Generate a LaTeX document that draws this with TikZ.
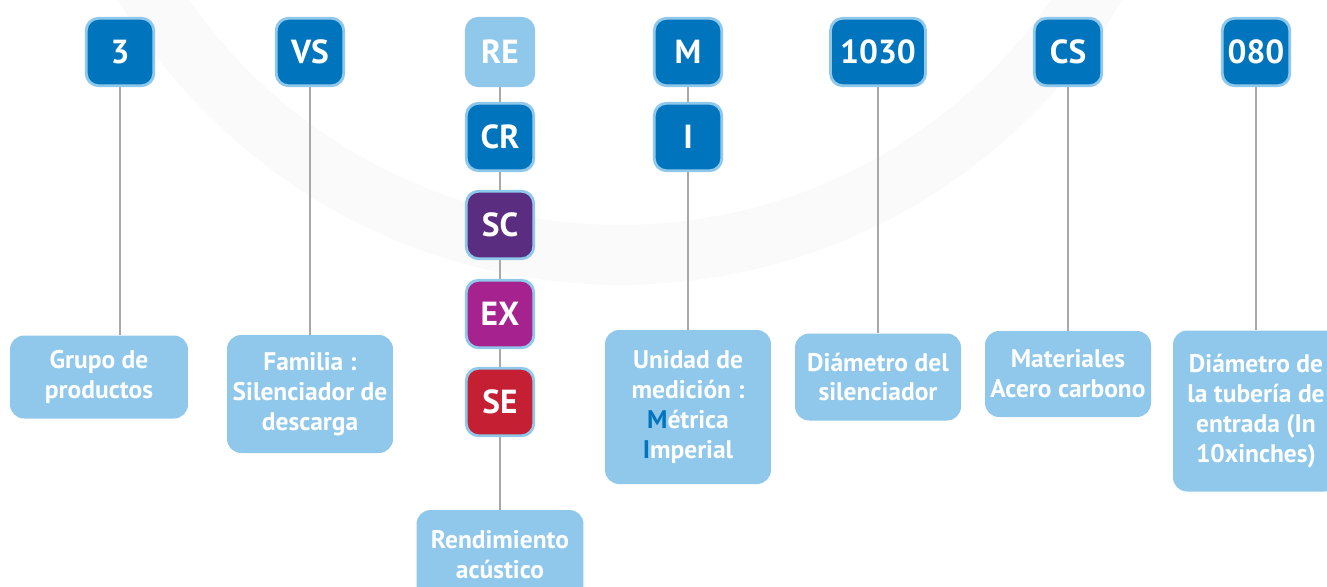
\documentclass[tikz,border=0pt]{standalone}
\usepackage{fontspec}
\setmainfont{PT Sans}
\usetikzlibrary{backgrounds}

\definecolor{codeblue}{HTML}{0075BE}
\definecolor{skyblue}{HTML}{8FC8EA}
\definecolor{scpurple}{HTML}{5B2D81}
\definecolor{exmagenta}{HTML}{A6228E}
\definecolor{sered}{HTML}{C41F32}
\definecolor{stemgray}{HTML}{A8A8A8}
\definecolor{ringgray}{HTML}{FAFAFA}

\tikzset{
  codebox/.style={draw=skyblue, line width=1.6pt, fill=codeblue, rounded corners=7pt,
    minimum width=1.35cm, minimum height=1.35cm, inner sep=0pt, text=white,
    font=\fontsize{19}{21}\selectfont\bfseries},
  infobox/.style={fill=skyblue, rounded corners=8pt, text=white, align=center,
    inner sep=0pt, minimum width=3.32cm, font=\fontsize{14.5}{17}\selectfont\bfseries},
  stem/.style={stemgray, line width=1.5pt},
}

\begin{document}
\begin{tikzpicture}[x=0.02cm, y=-0.02cm]
  \useasboundingbox (0,0) rectangle (1327,586);

  % Code boxes (top row)
  \node[codebox] (c3)   at (120,52)  {3};
  \node[codebox] (vs)   at (310,52)  {VS};
  \node[codebox, fill=skyblue] (re) at (500,52) {RE};
  \node[codebox] (m)    at (688,52)  {M};
  \node[codebox, minimum width=1.9cm] (num) at (878,52) {1030};
  \node[codebox] (cs)   at (1068,52) {CS};
  \node[codebox] (diam) at (1256,52) {080};

  % Options below RE and M
  \node[codebox] (cr) at (500,137) {CR};
  \node[codebox, fill=scpurple]  (sc) at (500,225) {SC};
  \node[codebox, fill=exmagenta] (ex) at (500,314) {EX};
  \node[codebox, fill=sered]     (se) at (500,402) {SE};
  \node[codebox] (i) at (688,137) {I};

  % Descriptions
  \node[infobox, minimum width=3.56cm, minimum height=1.66cm] (grupo) at (99,377)
    {Grupo de\\productos};
  \node[infobox, minimum height=2.36cm] (familia) at (310,394)
    {Familia :\\Silenciador de\\descarga};
  \node[infobox, minimum width=3.34cm, minimum height=1.8cm] (rend) at (500,555)
    {Rendimiento\\acústico};
  \node[infobox, minimum height=3.08cm] (unidad) at (688,407)
    {Unidad de\\medición :\\{\color{codeblue}M}étrica\\{\color{codeblue}I}mperial};
  \node[infobox, minimum height=1.74cm] (silen) at (878,377)
    {Diámetro del\\silenciador};
  \node[infobox, minimum height=1.72cm] (mat) at (1068,374)
    {Materiales\\Acero carbono};
  \node[infobox, minimum height=3.22cm] (tubo) at (1256,411)
    {Diámetro de\\la tubería de\\entrada (In\\10xinches)};

  \begin{scope}[on background layer]
    % faint ring behind everything
    \begin{scope}
      \clip (0,0) rectangle (1327,586);
      \fill[ringgray, even odd rule] (620,-300) circle (11.7cm) (620,-300) circle (10.5cm);
    \end{scope}

    % Stems
    \draw[stem] (c3.south) -- (c3.south |- grupo.north);
    \draw[stem] (vs) -- (familia);
    \draw[stem] (re) -- (rend);
    \draw[stem] (m) -- (unidad);
    \draw[stem] (num) -- (silen);
    \draw[stem] (cs) -- (mat);
    \draw[stem] (diam) -- (tubo);
  \end{scope}

\end{tikzpicture}
\end{document}
